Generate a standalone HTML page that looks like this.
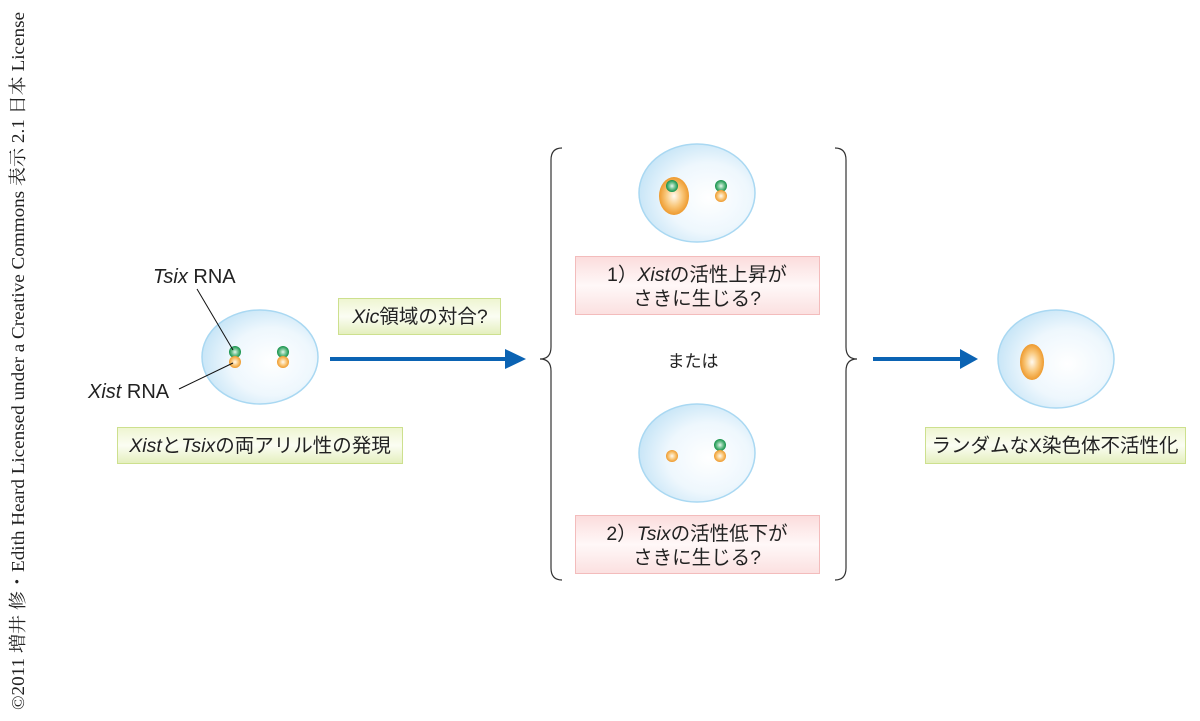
<!DOCTYPE html>
<html><head><meta charset="utf-8"><style>
html,body{margin:0;padding:0;background:#fff;width:1200px;height:721px;overflow:hidden}
svg{display:block;font-family:"Liberation Sans","Noto Sans CJK JP",sans-serif}
</style></head><body>
<svg width="1200" height="721" viewBox="0 0 1200 721" xmlns="http://www.w3.org/2000/svg">
<defs>
<radialGradient id="cell" cx="0.6" cy="0.55" r="0.6"><stop offset="0" stop-color="#ffffff"/><stop offset="0.6" stop-color="#eef7fd"/><stop offset="1" stop-color="#c9e6f7"/></radialGradient>
<radialGradient id="or" cx="0.5" cy="0.5" r="0.5"><stop offset="0" stop-color="#fffaf0"/><stop offset="0.55" stop-color="#f9c77a"/><stop offset="1" stop-color="#ee9a2e"/></radialGradient>
<radialGradient id="gr" cx="0.5" cy="0.5" r="0.5"><stop offset="0" stop-color="#e8f7ee"/><stop offset="0.45" stop-color="#7cc89a"/><stop offset="1" stop-color="#129048"/></radialGradient>
<linearGradient id="gbox" x1="0" y1="0" x2="0" y2="1"><stop offset="0" stop-color="#eef5d0"/><stop offset="0.5" stop-color="#fbfdf3"/><stop offset="1" stop-color="#e4efbd"/></linearGradient>
<linearGradient id="pbox" x1="0" y1="0" x2="0" y2="1"><stop offset="0" stop-color="#fbdcdc"/><stop offset="0.5" stop-color="#fff8f8"/><stop offset="1" stop-color="#fbe0e0"/></linearGradient>
</defs>

<text transform="translate(24,710) rotate(-90)" font-family="Liberation Serif,'Noto Serif CJK SC',serif" font-size="18" fill="#222" textLength="698" lengthAdjust="spacingAndGlyphs">©2011 増井 修・Edith Heard Licensed under a Creative Commons 表示 2.1 日本 License</text>

<!-- cell 1 -->
<ellipse cx="260" cy="357" rx="58" ry="47" fill="url(#cell)" stroke="#a9d8f2" stroke-width="1.5"/>
<circle cx="235" cy="352" r="6" fill="url(#gr)"/>
<circle cx="235" cy="362" r="6" fill="url(#or)"/>
<circle cx="283" cy="352" r="6" fill="url(#gr)"/>
<circle cx="283" cy="362" r="6" fill="url(#or)"/>
<line x1="197" y1="289" x2="233" y2="350" stroke="#111" stroke-width="1"/>
<line x1="179" y1="389" x2="233" y2="363" stroke="#111" stroke-width="1"/>
<text x="153" y="283" font-size="20" fill="#222"><tspan font-style="italic">Tsix</tspan> RNA</text>
<text x="88" y="398" font-size="20" fill="#222"><tspan font-style="italic">Xist</tspan> RNA</text>

<rect x="117.5" y="427.5" width="285" height="36" fill="url(#gbox)" stroke="#cde08e"/>
<text x="260" y="452" font-size="19.5" text-anchor="middle" fill="#222"><tspan font-style="italic">Xist</tspan>と<tspan font-style="italic">Tsix</tspan>の両アリル性の発現</text>

<rect x="338.5" y="298.5" width="162" height="36" fill="url(#gbox)" stroke="#cde08e"/>
<text x="420" y="323" font-size="19.5" text-anchor="middle" fill="#222"><tspan font-style="italic">Xic</tspan>領域の対合?</text>

<line x1="330" y1="359" x2="508" y2="359" stroke="#0b63b3" stroke-width="4"/>
<polygon points="505,349 526,359 505,369" fill="#0b63b3"/>

<!-- braces -->
<path d="M562,148 Q551,148 551,160 L551,347 Q551,359 540,359 Q551,359 551,371 L551,568 Q551,580 562,580" fill="none" stroke="#333" stroke-width="1.2"/>
<path d="M835,148 Q846,148 846,160 L846,347 Q846,359 857,359 Q846,359 846,371 L846,568 Q846,580 835,580" fill="none" stroke="#333" stroke-width="1.2"/>

<!-- cell 2 -->
<ellipse cx="697" cy="193" rx="58" ry="49" fill="url(#cell)" stroke="#a9d8f2" stroke-width="1.5"/>
<ellipse cx="674" cy="196" rx="15" ry="19" fill="url(#or)"/>
<circle cx="672" cy="186" r="6" fill="url(#gr)"/>
<circle cx="721" cy="186" r="6" fill="url(#gr)"/>
<circle cx="721" cy="196" r="6" fill="url(#or)"/>
<rect x="575.5" y="256.5" width="244" height="58" fill="url(#pbox)" stroke="#f3bcbc"/>
<text x="697" y="281" font-size="19.5" text-anchor="middle" fill="#222">1）<tspan font-style="italic">Xist</tspan>の活性上昇が</text>
<text x="697" y="305" font-size="19.5" text-anchor="middle" fill="#222">さきに生じる?</text>

<text x="693" y="367" font-size="17" text-anchor="middle" fill="#222">または</text>

<!-- cell 3 -->
<ellipse cx="697" cy="453" rx="58" ry="49" fill="url(#cell)" stroke="#a9d8f2" stroke-width="1.5"/>
<circle cx="672" cy="456" r="6" fill="url(#or)"/>
<circle cx="720" cy="445" r="6" fill="url(#gr)"/>
<circle cx="720" cy="456" r="6" fill="url(#or)"/>
<rect x="575.5" y="515.5" width="244" height="58" fill="url(#pbox)" stroke="#f3bcbc"/>
<text x="697" y="540" font-size="19.5" text-anchor="middle" fill="#222">2）<tspan font-style="italic">Tsix</tspan>の活性低下が</text>
<text x="697" y="564" font-size="19.5" text-anchor="middle" fill="#222">さきに生じる?</text>

<line x1="873" y1="359" x2="962" y2="359" stroke="#0b63b3" stroke-width="4"/>
<polygon points="960,349 978,359 960,369" fill="#0b63b3"/>

<!-- cell 4 -->
<ellipse cx="1056" cy="359" rx="58" ry="49" fill="url(#cell)" stroke="#a9d8f2" stroke-width="1.5"/>
<ellipse cx="1032" cy="362" rx="12" ry="18" fill="url(#or)"/>
<rect x="925.5" y="427.5" width="260" height="36" fill="url(#gbox)" stroke="#cde08e"/>
<text x="1055" y="452" font-size="19.5" text-anchor="middle" fill="#222">ランダムなX染色体不活性化</text>
</svg>
</body></html>
